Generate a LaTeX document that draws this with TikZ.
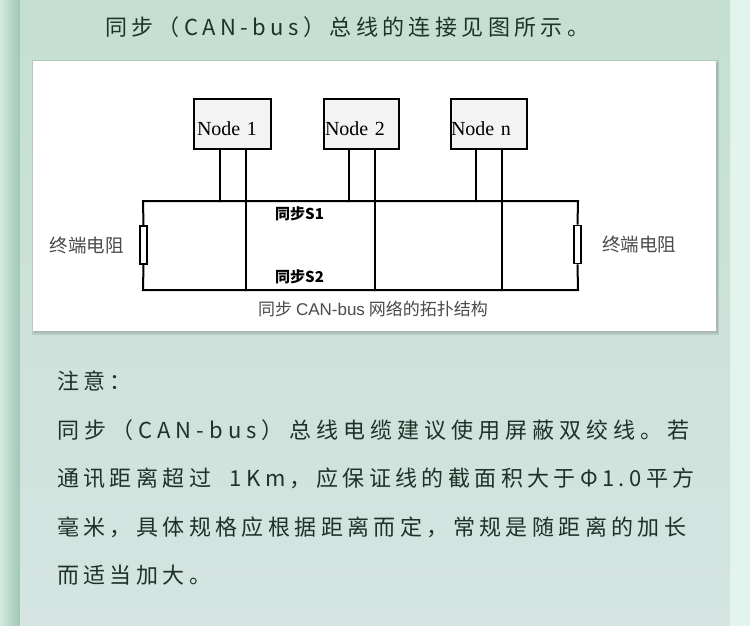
\documentclass[tikz,border=0pt]{standalone}
\usepackage{fontspec}
\setmainfont{Liberation Serif}
\newfontfamily\cjk{Noto Sans CJK SC}
\newfontfamily\cjkwide{Noto Sans CJK SC}[LetterSpace=20]
\newfontfamily\cjkwider{Noto Sans CJK SC}[LetterSpace=23]
\newfontfamily\arialf{Liberation Sans}
\usetikzlibrary{positioning}
\definecolor{panelTop}{HTML}{C4DFD1}
\definecolor{panelBot}{HTML}{D4E5E2}
\definecolor{stripL}{HTML}{A1C7B5}
\definecolor{stripLL}{HTML}{D2E9DF}
\definecolor{stripR}{HTML}{E2F4EC}
\definecolor{inkgreen}{HTML}{1E3327}
\definecolor{boxgray}{HTML}{F3F3F3}
\definecolor{labgray}{HTML}{4A4A4A}
\newcommand{\boxtext}[1]{\rule{0pt}{23pt}#1}
\tikzstyle{nodebox} = [draw,line width=2pt,fill=boxgray,minimum height=50,anchor=north west,align=left,font=\fontsize{20}{23}\selectfont]
\tikzstyle{wire} = [line width=2pt]
\tikzstyle{resistor} = [draw,line width=1.7pt,fill=white,minimum width=7,minimum height=38,inner sep=0]
\tikzstyle{notetext} = [anchor=west,inner sep=0,text=inkgreen,font=\cjkwide\fontsize{22}{26}\selectfont]
\begin{document}
\begin{tikzpicture}[x=1pt,y=-1pt]
          % background
          \useasboundingbox (0,0) rectangle (750,626);
          \fill[stripR] (730,0) rectangle (750,626);
          \shade[left color=stripLL,right color=stripL] (0,0) rectangle (20,626);
          \shade[top color=panelTop,bottom color=panelBot] (20,0) rectangle (730,626);
          % card
          \fill[black,opacity=0.10] (32,60) rectangle (719,335);
          \fill[black,opacity=0.08] (34,63) rectangle (718,333);
          \fill[white] (33,61) rectangle (716,331);
          \node[notetext] (title) at (105,27) {同步（CAN-bus）总线的连接见图所示。};
          % nodes
          \node[nodebox,minimum width=77,text width=71,inner xsep=3] (n1) at (193,98) {\boxtext{Node 1}};
          \node[nodebox,minimum width=75,text width=73,inner xsep=1] (n2) at (323,98) {\boxtext{Node 2}};
          \node[nodebox,minimum width=76,text width=76,inner xsep=0] (nn) at (450,98) {\boxtext{Node n}};
          % bus
          \coordinate (tl) at (143,201);
          \coordinate (tr) at (578,201);
          \coordinate (bl) at (143,290);
          \coordinate (br) at (578,290);
          \node[resistor] (rl) at (143.5,245) {};
          \node[resistor] (rr) at (577.5,244.5) {};
          \draw[wire] (rl.north) -- (tl) -- (tr) -- (rr.north);
          \draw[wire] (rl.south) -- (bl) -- (br) -- (rr.south);
          \foreach \n in {n1,n2,nn}{
            \coordinate (\n-a) at ([xshift=-13]\n.south);
            \coordinate (\n-b) at ([xshift=13]\n.south);
            \draw[wire] (\n-a) -- (\n-a |- tl);
            \draw[wire] (\n-b) -- (\n-b |- bl);
            \fill (\n-a |- tl) circle (1.4);
            \fill (\n-b |- bl) circle (1.4);
          }
          % labels
          \node[anchor=west,inner sep=0,font=\cjk\bfseries\fontsize{15}{18}\selectfont] (s1) at (275,214) {同步S1};
          \node[anchor=west,inner sep=0,font=\cjk\bfseries\fontsize{15}{18}\selectfont] (s2) at (275,277) {同步S2};
          \node[left=15 of rl,inner sep=0,text=labgray,font=\cjk\fontsize{18.5}{22}\selectfont] (rlab) {终端电阻};
          \node[right=20 of rr,inner sep=0,text=labgray,font=\cjk\fontsize{18.5}{22}\selectfont] (rrab) {终端电阻};
          \node[inner sep=0,text=labgray,font=\cjk\fontsize{17}{20}\selectfont] (cap) at (373,309) {同步 {\arialf CAN-bus} 网络的拓扑结构};
          % note
          \node[notetext] (note1) at (57,381) {注意：};
          \node[notetext,font=\cjkwider\fontsize{22}{26}\selectfont] (note2) at (57,430) {同步（CAN-bus）总线电缆建议使用屏蔽双绞线。若};
          \node[notetext] (note3) at (57,478) {通讯距离超过\ \ 1Km，应保证线的截面积大于Φ1.0平方};
          \node[notetext] (note4) at (57,527) {毫米，具体规格应根据距离而定，常规是随距离的加长};
          \node[notetext] (note5) at (57,575) {而适当加大。};
      \end{tikzpicture}
\end{document}
